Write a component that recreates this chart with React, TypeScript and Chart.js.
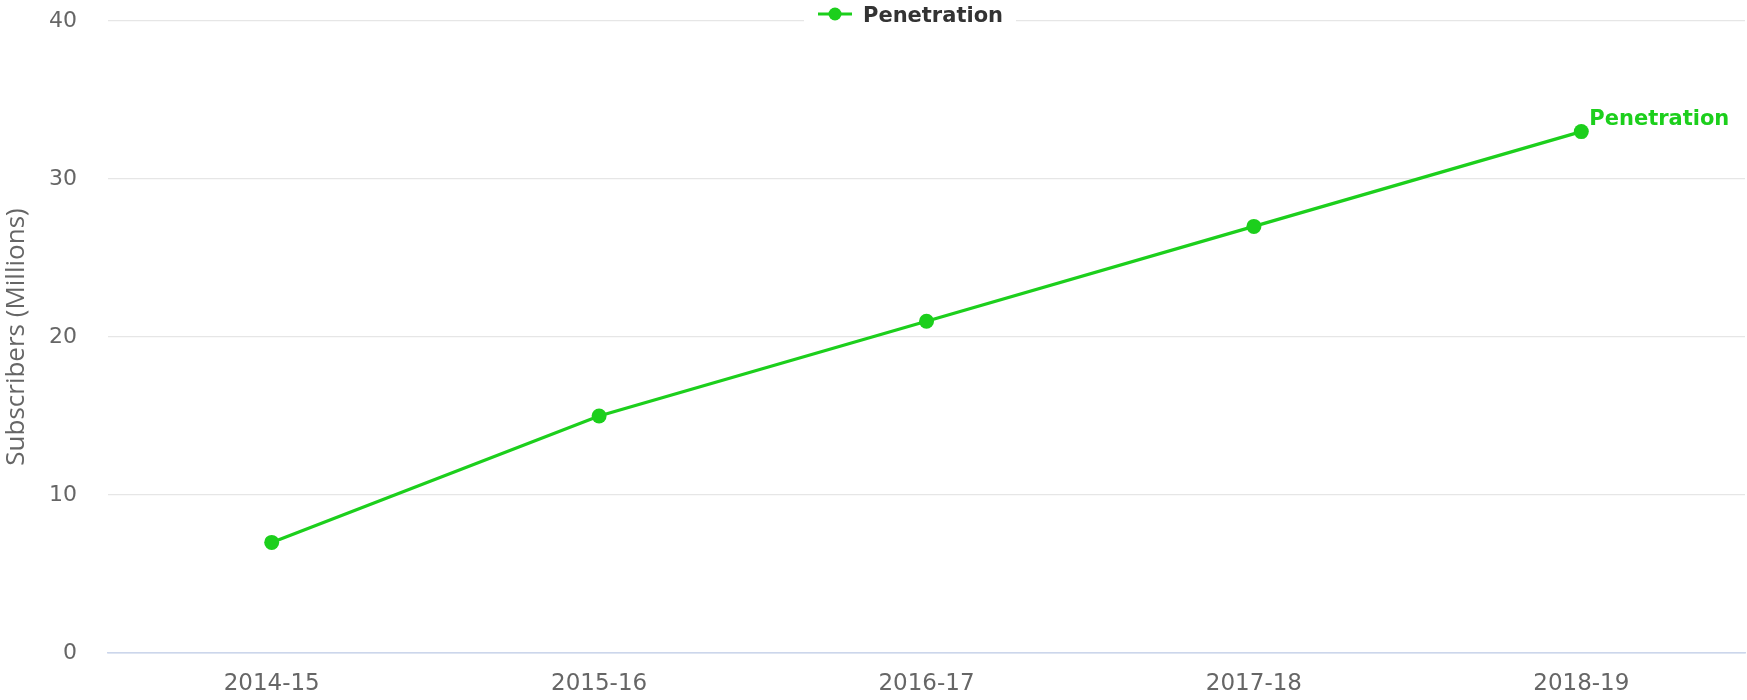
import { useEffect, useRef } from "react";
import { Chart, registerables } from "chart.js";

Chart.register(...registerables);

const categories = ["2014-15", "2015-16", "2016-17", "2017-18", "2018-19"];
const penetration = [7, 15, 21, 27, 33];
const seriesName = "Penetration";
const yTickValues = [0, 10, 20, 30, 40];
const yTitle = "Subscribers (Millions)";

const GREEN = "#1ccf1c";

export default function App() {
  const ref = useRef<HTMLCanvasElement>(null);

  useEffect(() => {
    document.body.style.margin = "0";
    const canvas = ref.current;
    if (!canvas) return;

    const topLegend = {
      id: "topLegend",
      afterDraw(chart: any) {
        const ctx = chart.ctx;
        ctx.save();
        ctx.fillStyle = "#ffffff";
        ctx.fillRect(804, 0, 212, 30);
        ctx.strokeStyle = GREEN;
        ctx.lineWidth = 3;
        ctx.beginPath();
        ctx.moveTo(818, 14);
        ctx.lineTo(852, 14);
        ctx.stroke();
        ctx.fillStyle = GREEN;
        ctx.beginPath();
        ctx.arc(835, 14, 6.5, 0, Math.PI * 2);
        ctx.fill();
        ctx.fillStyle = "#333333";
        ctx.font = "bold 21px 'DejaVu Sans'";
        ctx.textBaseline = "alphabetic";
        ctx.textAlign = "left";
        ctx.fillText(seriesName, 863, 21.5);
        ctx.restore();
      },
    };

    const endLabel = {
      id: "endLabel",
      afterDatasetsDraw(chart: any) {
        const meta = chart.getDatasetMeta(0);
        const pts = meta.data;
        const last = pts[pts.length - 1];
        if (!last) return;
        const ctx = chart.ctx;
        ctx.save();
        ctx.fillStyle = GREEN;
        ctx.font = "bold 21px 'DejaVu Sans'";
        ctx.textAlign = "left";
        ctx.textBaseline = "alphabetic";
        ctx.fillText(seriesName, last.x + 8, last.y - 7);
        ctx.restore();
      },
    };

    const chart = new Chart(canvas, {
      type: "line",
      data: {
        labels: categories,
        datasets: [
          {
            label: seriesName,
            data: penetration,
            borderColor: GREEN,
            backgroundColor: GREEN,
            borderWidth: 3.2,
            pointRadius: 7.5,
            pointHoverRadius: 7.5,
            pointBackgroundColor: GREEN,
            pointBorderWidth: 0,
            tension: 0,
            fill: false,
            clip: false,
          },
        ],
      },
      options: {
        responsive: false,
        animation: false,
        layout: { autoPadding: false, padding: { top: 21, right: 2, left: 0, bottom: 0 } },
        plugins: {
          legend: { display: false },
          tooltip: { enabled: false },
        },
        scales: {
          x: {
            offset: true,
            grid: { display: false, drawTicks: false },
            border: { display: true, color: "#ccd6eb", width: 1.5 },
            ticks: {
              color: "#666666",
              font: { family: "'DejaVu Sans'", size: 23 },
              padding: 17,
              maxRotation: 0,
            },
            afterFit(scale: any) {
              scale.height = 47;
              scale.paddingLeft = 0;
              scale.paddingRight = 0;
            },
          },
          y: {
            min: 0,
            max: 40,
            afterBuildTicks(scale: any) {
              scale.ticks = yTickValues.map((v) => ({ value: v }));
            },
            grid: {
              drawTicks: false,
              color: (ctx: any) => (ctx.tick && ctx.tick.value === 0 ? "#ccd6eb" : "#e6e6e6"),
              lineWidth: 1.2,
            },
            border: { display: false },
            ticks: {
              color: "#666666",
              font: { family: "'DejaVu Sans'", size: 22 },
              padding: 31,
            },
            title: {
              display: true,
              text: yTitle,
              color: "#666666",
              font: { family: "'Open Sans'", size: 26 },
              padding: { top: 1, bottom: 0 },
            },
            afterFit(scale: any) {
              scale.width = 108;
              scale.paddingTop = 0;
              scale.paddingBottom = 0;
            },
          },
        },
      },
      plugins: [endLabel, topLegend],
    });

    return () => chart.destroy();
  }, []);

  return (
    <div style={{ width: 1747, height: 700 }}>
      <canvas ref={ref} width={1747} height={700} style={{ display: "block" }} />
    </div>
  );
}
